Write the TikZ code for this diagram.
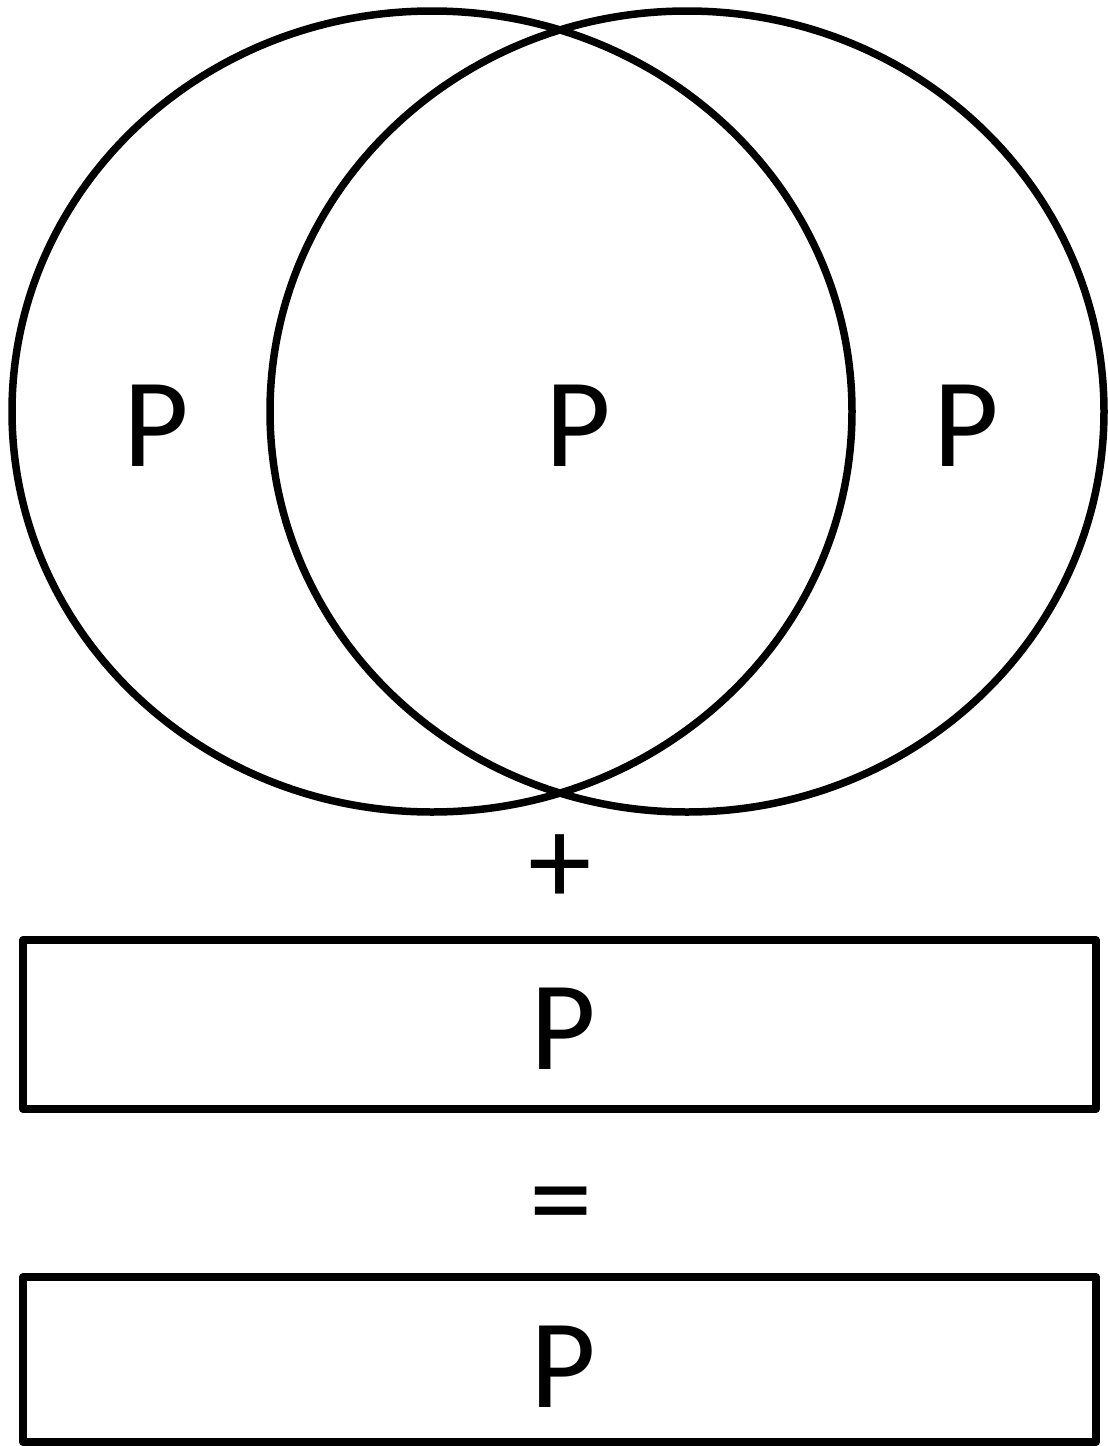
\documentclass[tikz,border=0pt]{standalone}
\usepackage{fontspec}
\setmainfont{Carlito}
\begin{document}
\begin{tikzpicture}[x=1pt, y=-1pt, line join=round, font=\fontsize{127}{130}\selectfont]
		\tikzset{
			ring/.style={draw=black, line width=7.5pt},
			setbox/.style={draw=black, line width=8pt, inner sep=0pt, minimum width=1073pt},
			letter/.style={inner sep=0pt}
		}
		\pgfmathsetmacro{\cy}{411.5}
		\useasboundingbox (0, 0) rectangle (1108, 1446);
		\begin{scope}
			\draw[ring] (432, \cy) ellipse [x radius=420, y radius=400.5];
			\draw[ring] (687, \cy) ellipse [x radius=417, y radius=400.5];
			\node[letter] (pleft) at (156, 426) {P};
			\node[letter] (pmid) at (578, 426) {P};
			\node[letter] (pright) at (966, 426) {P};
		\end{scope}
		\node[letter] (plus) at (560, 870) {+};
		\node[setbox, minimum height=169pt] (boxA) at (559.5, 1024.5) {};
		\node[letter] (pA) at (563, 1029) {P};
		\node[letter] (equal) at (561, 1214) {=};
		\node[setbox, minimum height=165pt] (boxB) at (559.5, 1359.5) {};
		\node[letter] (pB) at (563, 1367) {P};
	\end{tikzpicture}
\end{document}
